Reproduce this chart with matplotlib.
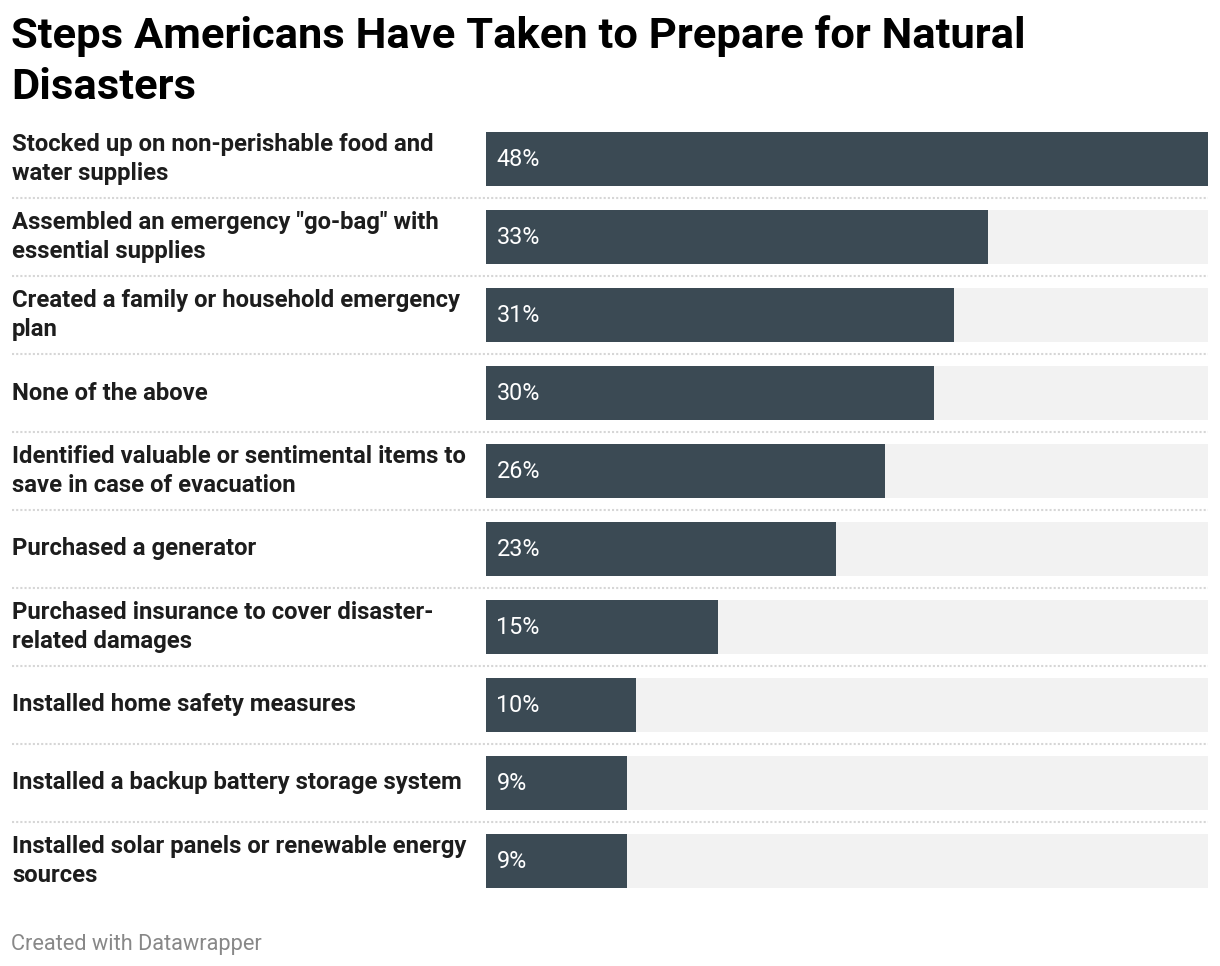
import matplotlib
matplotlib.use("Agg")
import matplotlib.pyplot as plt

plt.rcParams['font.family'] = ['Roboto', 'DejaVu Sans']

title = "Steps Americans Have Taken to Prepare for Natural\nDisasters"
footer = "Created with Datawrapper"

steps = [
    "Stocked up on non-perishable food and\nwater supplies",
    "Assembled an emergency \"go-bag\" with\nessential supplies",
    "Created a family or household emergency\nplan",
    "None of the above",
    "Identified valuable or sentimental items to\nsave in case of evacuation",
    "Purchased a generator",
    "Purchased insurance to cover disaster-\nrelated damages",
    "Installed home safety measures",
    "Installed a backup battery storage system",
    "Installed solar panels or renewable energy\nsources",
]
# labels are rounded
share = [48, 33.4, 31.1, 29.8, 26.5, 23.3, 15.4, 10.0, 9.4, 9.4]
scale_max = 48

W, H = 1220, 966
bar_col = "#3b4a54"
bg_col = "#f2f2f2"

fig = plt.figure(figsize=(W / 100, H / 100), dpi=100)

# bar area in pixels: x 486..1208, rows centred at 159 + 78*i
left, right = 486, 1208
top, bottom = 120, 900
ax = fig.add_axes([left / W, (H - bottom) / H, (right - left) / W, (bottom - top) / H])

n = len(steps)
ypos = list(range(n))
ax.barh(ypos, [scale_max] * n, height=0.69, color=bg_col, zorder=1)
ax.barh(ypos, share, height=0.69, color=bar_col, zorder=2)

ax.set_xlim(0, scale_max)
ax.set_ylim(n - 0.5, -0.5)
ax.axis("off")

ytrans = ax.get_yaxis_transform()
lab_x = (12 - left) / (right - left)

for i, (lab, v) in enumerate(zip(steps, share)):
    ax.text(lab_x, i, lab, transform=ytrans, ha="left", va="center",
            fontsize=17.2, fontweight="bold", color="#1d1d1d", linespacing=1.3)
    ax.annotate(f"{v:.0f}%", xy=(0, i), xytext=(7.5, 0), textcoords="offset points",
                ha="left", va="center", fontsize=16.8, color="white", zorder=3)
    if i < n - 1:
        ax.plot([lab_x, 1], [i + 0.5, i + 0.5], transform=ytrans, clip_on=False,
                color="#d6d6d6", lw=1.5, linestyle=(0, (1, 1)), zorder=0)

fig.text(11 / W, 1 - 15 / H, title, ha="left", va="top", fontsize=31.3,
         fontweight="bold", color="#000000", linespacing=1.33)
fig.text(11 / W, 1 - 950 / H, footer, ha="left", va="baseline", fontsize=15.7,
         color="#888888")

fig.savefig("out.png", dpi=100)
